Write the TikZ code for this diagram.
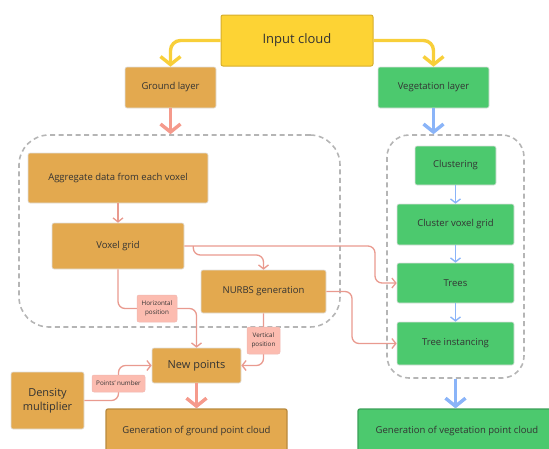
\documentclass[tikz,border=0pt]{standalone}
\usepackage{fontspec}
\setmainfont{Open Sans}
\usetikzlibrary{arrows.meta}
\definecolor{ylw}{HTML}{FDD334}
\definecolor{ylwline}{HTML}{F8CF3A}
\definecolor{ylwborder}{HTML}{D6AE2C}
\definecolor{org}{HTML}{E3A94F}
\definecolor{orgborder}{HTML}{B98A3E}
\definecolor{grn}{HTML}{4CC96E}
\definecolor{grnborder}{HTML}{3A9F57}
\definecolor{sal}{HTML}{E99A8F}
\definecolor{salthick}{HTML}{F59A8C}
\definecolor{salfill}{HTML}{FCBCB0}
\definecolor{blu}{HTML}{8AB4F8}
\definecolor{dgray}{HTML}{B5B5B5}
\definecolor{txt}{HTML}{333333}
\tikzset{
  box/.style={rectangle, rounded corners=2pt, draw=black!12, line width=0.6pt, text=txt, align=center, font=\fontsize{9.5}{12}\selectfont},
  obox/.style={box, fill=org},
  gbox/.style={box, fill=grn},
  lbl/.style={rectangle, rounded corners=2pt, fill=salfill, draw=sal!70, line width=0.5pt, text=txt, align=center, font=\fontsize{6.3}{8.5}\selectfont, inner sep=1pt},
  cont/.style={rectangle, draw=dgray, line width=1.6pt, dash pattern=on 5pt off 3.5pt},
  thin/.style={draw=sal, line width=1.3pt, rounded corners=7pt, -{Straight Barb[length=4pt,width=10pt]}},
  thinb/.style={draw=blu, line width=1.3pt, -{Straight Barb[length=4pt,width=10pt]}},
  thick/.style={line width=3.4pt, -{Straight Barb[length=8pt,width=20pt]}},
}
\begin{document}
\begin{tikzpicture}[x=1pt,y=-1pt]
\useasboundingbox (0,0) rectangle (549,448);
\clip (0,0) rectangle (549,448);
% containers
\node[cont, rounded corners=30pt, minimum width=321pt, minimum height=192pt] (gcont) at (179.5,231) {};
\node[cont, rounded corners=22pt, minimum width=137pt, minimum height=243pt] (vcont) at (455.5,256.5) {};
% top
\node[box, fill=ylw, draw=ylwborder, line width=1pt, minimum width=152pt, minimum height=51pt, font=\fontsize{13}{15}\selectfont] (input) at (297,40.5) {Input cloud};
\node[obox, minimum width=91pt, minimum height=41pt] (ground) at (170.5,87.5) {Ground layer};
\node[gbox, minimum width=111pt, minimum height=41pt] (veg) at (433.5,87.5) {Vegetation layer};
% ground nodes
\node[obox, minimum width=180pt, minimum height=50pt] (agg) at (118,178) {Aggregate data from each voxel};
\node[obox, minimum width=132pt, minimum height=46pt] (vox) at (118,246) {Voxel grid};
\node[obox, minimum width=125pt, minimum height=43pt] (nurbs) at (263.5,291.5) {NURBS generation};
\node[obox, minimum width=89pt, minimum height=35pt, font=\fontsize{11}{13}\selectfont] (newp) at (196.5,365.5) {New points};
\node[obox, minimum width=73pt, minimum height=57pt, font=\fontsize{11}{14}\selectfont] (dens) at (47.5,400.5) {Density\\multiplier};
\node[obox, draw=orgborder, line width=1.3pt, minimum width=181pt, minimum height=44pt] (gground) at (196.5,431) {Generation of ground point cloud};
% vegetation nodes
\node[gbox, minimum width=81pt, minimum height=39pt] (clus) at (455.5,165.5) {Clustering};
\node[gbox, minimum width=117pt, minimum height=41pt] (cvox) at (455.5,224.5) {Cluster voxel grid};
\node[gbox, minimum width=117pt, minimum height=40pt] (trees) at (455.5,283) {Trees};
\node[gbox, minimum width=117pt, minimum height=43pt] (tinst) at (455.5,343.5) {Tree instancing};
\node[gbox, draw=grnborder, line width=1.3pt, minimum width=198pt, minimum height=44pt] (gveg) at (457,431) {Generation of vegetation point cloud};
% yellow arrows
\draw[thick, draw=ylwline, rounded corners=10pt] (input.west) -| (ground.north);
\draw[thick, draw=ylwline, rounded corners=10pt] (input.east) -| (veg.north);
% container arrows
\draw[thick, draw=salthick] (ground.south) -- (ground.south |- gcont.north);
\draw[thick, draw=blu] (veg.south) -- (veg.south |- vcont.north);
\draw[thick, draw=salthick] (newp.south) -- (gground.north);
\draw[thick, draw=blu] (vcont.south) -- (vcont.south |- gveg.north);
% thin edges ground
\draw[thin] (agg.south) -- (vox.north);
\coordinate (c1) at (375,246);
\draw[thin] (vox.east) -- (c1) |- (trees.west);
\draw[thin] (vox.east) ++(9,0) -- ++(0,9) -| (nurbs.north);
\coordinate (c2) at (352,291.5);
\draw[thin] (nurbs.east) -- (c2) |- (tinst.west);
\coordinate (c3) at (118,308.5);
\coordinate (c4) at (196.5,308.5);
\draw[thin] (vox.south) -- (c3) -- (c4) -- (newp.north);
\coordinate (c5) at (263.5,365.5);
\draw[thin] (nurbs.south) -- (c5) -- (newp.east);
\coordinate (c6) at (118.5,400.5);
\coordinate (c7) at (118.5,365.5);
\draw[thin] (dens.east) -- (c6) -- (c7) -- (newp.west);
% labels
\node[lbl, minimum width=40pt, minimum height=27pt] (hpos) at (157,308.5) {Horizontal\\position};
\node[lbl, minimum width=33pt, minimum height=27pt] (vpos) at (263.5,340.5) {Vertical\\position};
\node[lbl, minimum width=53pt, minimum height=17pt] (pnum) at (118.5,383.5) {Points' number};
% vegetation thin edges
\draw[thinb] (clus.south) -- (cvox.north);
\draw[thinb] (cvox.south) -- (trees.north);
\draw[thinb] (trees.south) -- (tinst.north);
\end{tikzpicture}
\end{document}
